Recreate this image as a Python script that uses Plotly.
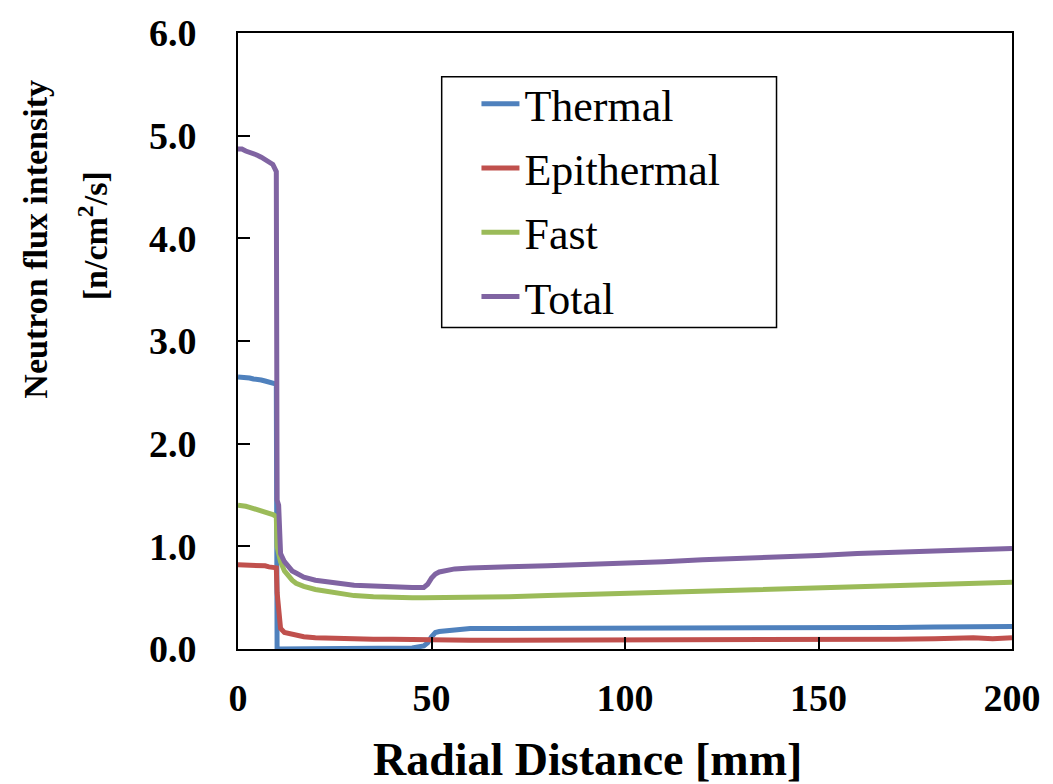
import plotly.graph_objects as go

# Radial positions (mm) shared by all flux components
radius_mm = [0, 1, 2, 3, 4, 5, 6, 7, 8, 9, 9.9, 10.1, 10.5, 11, 12, 13, 14, 15, 17, 20,
             23, 26, 30, 35, 40, 45, 48, 49, 50, 51, 52, 54, 56, 60, 65, 70, 80, 90, 100,
             110, 120, 130, 140, 150, 160, 170, 180, 190, 195, 200]

thermal = [2.65, 2.65, 2.64, 2.64, 2.63, 2.63, 2.62, 2.61, 2.60, 2.59, 2.58, 0.0, 0.0, 0.0,
           0.0, 0.0, 0.0, 0.0, 0.0, 0.0, 0.0, 0.0, 0.0, 0.0, 0.0, 0.01, 0.03, 0.06, 0.12,
           0.16, 0.17, 0.18, 0.19, 0.20, 0.20, 0.20, 0.20, 0.20, 0.20, 0.20, 0.20, 0.21,
           0.21, 0.21, 0.21, 0.21, 0.215, 0.22, 0.22, 0.22]

epithermal = [0.82, 0.82, 0.82, 0.81, 0.82, 0.81, 0.81, 0.81, 0.80, 0.80, 0.79, 0.55, 0.42,
              0.20, 0.16, 0.15, 0.14, 0.13, 0.12, 0.11, 0.105, 0.10, 0.10, 0.095, 0.095,
              0.09, 0.09, 0.09, 0.09, 0.09, 0.09, 0.09, 0.09, 0.085, 0.085, 0.085, 0.085,
              0.09, 0.09, 0.09, 0.09, 0.09, 0.09, 0.095, 0.095, 0.095, 0.10, 0.11, 0.10, 0.11]

fast = [1.40, 1.40, 1.39, 1.38, 1.37, 1.36, 1.35, 1.33, 1.32, 1.31, 1.29, 1.00, 0.93, 0.85,
        0.76, 0.71, 0.67, 0.64, 0.61, 0.58, 0.56, 0.54, 0.52, 0.51, 0.50, 0.50, 0.50, 0.50,
        0.50, 0.50, 0.50, 0.50, 0.50, 0.50, 0.51, 0.51, 0.52, 0.53, 0.54, 0.55, 0.57, 0.58,
        0.59, 0.60, 0.61, 0.62, 0.63, 0.64, 0.64, 0.65]

total = [4.87, 4.87, 4.85, 4.84, 4.82, 4.81, 4.79, 4.77, 4.75, 4.72, 4.65, 1.45, 1.40, 0.93,
         0.85, 0.80, 0.76, 0.74, 0.70, 0.67, 0.65, 0.64, 0.62, 0.61, 0.60, 0.60, 0.60, 0.63,
         0.69, 0.73, 0.75, 0.77, 0.78, 0.79, 0.79, 0.80, 0.81, 0.82, 0.84, 0.85, 0.87, 0.88,
         0.90, 0.91, 0.93, 0.94, 0.95, 0.97, 0.97, 0.98]

series = [
    ("Thermal", thermal, "#4F81BD"),
    ("Epithermal", epithermal, "#C0504D"),
    ("Fast", fast, "#9BBB59"),
    ("Total", total, "#8064A2"),
]

x_ticks = [0, 50, 100, 150, 200]
y_ticks = [0, 1, 2, 3, 4, 5, 6]

fig = go.Figure()
for name, values, color in series:
    fig.add_trace(go.Scatter(
        x=radius_mm, y=values, name=name, mode="lines",
        line=dict(color=color, width=5),
        legendgroup=name,
    ))

serif = "Liberation Serif"

axis_common = dict(
    showline=True, linecolor="black", linewidth=2, mirror=True,
    ticks="inside", tickcolor="black", tickwidth=1.5, ticklen=12,
    showgrid=False, zeroline=False,
    tickfont=dict(family=serif, size=38, color="black", weight="bold"),
)

fig.update_xaxes(range=[0, 200], tickvals=x_ticks, ticklabelstandoff=14, **axis_common)
fig.update_yaxes(range=[0, 6], tickvals=y_ticks, tickformat=".1f", ticklabelstandoff=32,
                 **axis_common)

# Legend frame
fig.add_shape(type="rect", xref="paper", yref="paper",
              x0=(443 - 238) / 779, x1=(780 - 238) / 779,
              y0=(649 - 325) / 621, y1=(649 - 72) / 621,
              line=dict(color="black", width=1.5), fillcolor="white", layer="below")

fig.add_annotation(text="<b>Radial Distance [mm]</b>", xref="paper", yref="paper",
                   x=(590 - 238) / 779, y=-(760 - 649) / 621, showarrow=False,
                   xanchor="center", yanchor="middle",
                   font=dict(family=serif, size=46, color="black"))
# Two-line vertical axis title, each line placed separately
fig.add_annotation(text="<b>Neutron flux intensity</b>",
                   xref="paper", yref="paper",
                   x=-(238 - 34) / 779, y=(649 - 236) / 621, showarrow=False,
                   textangle=-90, xanchor="center", yanchor="middle",
                   font=dict(family=serif, size=34, color="black"))
fig.add_annotation(text="<b>[n/cm<sup>2</sup>/s]</b>",
                   xref="paper", yref="paper",
                   x=-(238 - 92) / 779, y=(649 - 232) / 621, showarrow=False,
                   textangle=-90, xanchor="center", yanchor="middle",
                   font=dict(family=serif, size=34, color="black"))

fig.update_layout(
    width=1053, height=784,
    margin=dict(l=238, r=36, t=28, b=135),
    paper_bgcolor="white", plot_bgcolor="white",
    showlegend=True,
    legend=dict(
        x=(478 - 238) / 779, y=(649 - 64) / 621, xanchor="left", yanchor="top",
        bgcolor="rgba(0,0,0,0)", borderwidth=0,
        font=dict(family=serif, size=44, color="black"),
        traceorder="grouped", tracegroupgap=4, itemwidth=38,
    ),
)

fig.write_html("out.html")
